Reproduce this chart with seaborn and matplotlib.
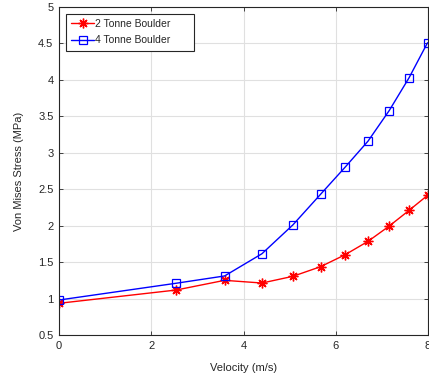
import matplotlib
matplotlib.use("Agg")
import matplotlib.pyplot as plt
import seaborn as sns
import pandas as pd

velocity = [0.0, 2.54, 3.59, 4.40, 5.07, 5.67, 6.20, 6.70, 7.16, 7.59, 7.99]
stress_2t = [0.935, 1.117, 1.25, 1.213, 1.305, 1.437, 1.60, 1.785, 1.995, 2.21, 2.416]
stress_4t = [0.98, 1.21, 1.31, 1.615, 2.01, 2.43, 2.80, 3.16, 3.58, 4.03, 4.51]
labels = ["2 Tonne Boulder", "4 Tonne Boulder"]
xticks = [0, 2, 4, 6, 8]
yticks = [0.5, 1, 1.5, 2, 2.5, 3, 3.5, 4, 4.5, 5]

sns.set_theme(style="whitegrid")
plt.rcParams['font.family'] = ['Liberation Sans', 'DejaVu Sans']

fig = plt.figure(figsize=(4.29, 3.78), dpi=100)
ax = fig.add_axes([59/429, 43/378, 369/429, 328/378])

df2 = pd.DataFrame({"v": velocity, "s": stress_2t})
df4 = pd.DataFrame({"v": velocity, "s": stress_4t})
sns.lineplot(data=df2, x="v", y="s", ax=ax, color="red", marker=(8, 2, 0), markersize=7,
             markeredgecolor="red", markerfacecolor="red", markeredgewidth=1.0,
             linewidth=1, label=labels[0])
sns.lineplot(data=df4, x="v", y="s", ax=ax, color="blue", marker="s", markersize=5.5,
             markeredgecolor="blue", markerfacecolor="none", markeredgewidth=0.9, linewidth=1,
             label=labels[1])

ax.set_xlim(0, 8)
ax.set_ylim(0.5, 5)
ax.set_xticks(xticks)
ax.set_yticks(yticks)
ax.set_xticklabels([str(t) for t in xticks])
ax.set_yticklabels([f"{t:g}" for t in yticks])
ax.set_facecolor("white")
ax.grid(True, color="#e0e0e0", linewidth=0.8)
for sp in ax.spines.values():
    sp.set_visible(True)
    sp.set_color("#262626")
    sp.set_linewidth(0.8)
ax.tick_params(axis="both", direction="in", length=3, width=0.6, colors="#262626",
               labelsize=8, labelcolor="#262626", top=True, right=True, pad=4,
               bottom=True, left=True)
ax.set_xlabel("Velocity (m/s)", fontsize=8, color="#262626", labelpad=9)
ax.set_ylabel("Von Mises Stress (MPa)", fontsize=8, color="#262626", labelpad=10)

leg = ax.legend(loc="upper left", bbox_to_anchor=(0.019, 0.6, 0.347, 0.379), mode="expand",
                fontsize=7.5, frameon=True, fancybox=False, edgecolor="#262626", framealpha=1,
                borderpad=0.5, handlelength=2.2, handletextpad=0.1, labelspacing=0.6,
                borderaxespad=0)
leg.get_frame().set_linewidth(0.8)

fig.savefig("out.png", dpi=100)
